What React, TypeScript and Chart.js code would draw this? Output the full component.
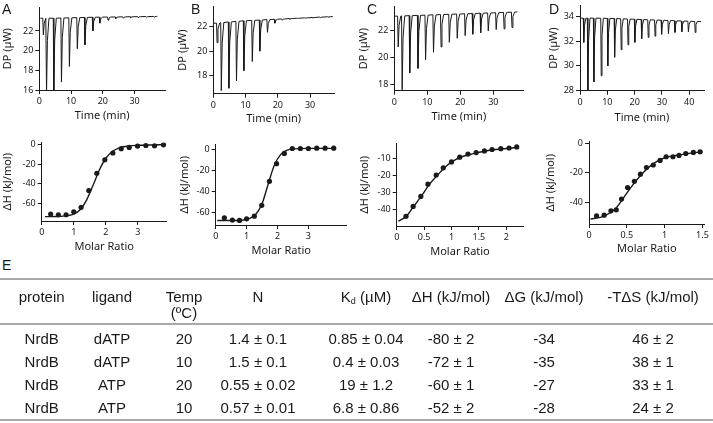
import React, { useEffect, useRef } from "react";
import { Chart, registerables } from "chart.js";

Chart.register(...registerables);

// ---------- Panel A (top): raw thermogram ----------
const aTraceStart = [0.3, 23.3];
const aTraceEnd = [37.2, 23.5];
const aInjTimes = [1.1, 2.1, 4.4, 6.8, 9.3, 11.8, 14.2, 16.7, 18.9, 21.5, 23.9, 26.3, 28.6, 31.0, 33.6, 36.0];
const aInjPeaks = [21.6, 15.8, 15.9, 16.8, 18.4, 20.2, 20.6, 22.0, 22.8, 23.1, 23.25, 23.3, 23.35, 23.35, 23.4, 23.4];
const aInjBase = [23.3, 23.3, 23.3, 23.32, 23.34, 23.36, 23.38, 23.4, 23.41, 23.42, 23.43, 23.44, 23.45, 23.46, 23.47, 23.48];

// ---------- Panel B (top) ----------
const bTraceStart = [0.2, 22.3];
const bTraceEnd = [37.0, 22.85];
const bInjTimes = [1.0, 2.3, 4.65, 7.0, 9.3, 11.9, 14.25, 16.6, 18.9, 21.2, 23.5, 25.9, 28.3, 30.6, 33.0, 35.4];
const bInjPeaks = [20.7, 16.75, 16.95, 17.55, 18.4, 19.15, 20.0, 21.55, 22.3, 22.55, 22.62, 22.68, 22.7, 22.73, 22.76, 22.8];
const bInjBase = [22.3, 22.35, 22.4, 22.45, 22.5, 22.53, 22.56, 22.6, 22.62, 22.65, 22.68, 22.71, 22.74, 22.77, 22.8, 22.83];

// ---------- Panel C (top) ----------
const cTraceStart = [0.2, 23.1];
const cTraceEnd = [37.3, 23.42];
const cInjTimes = [1.0, 2.2, 4.5, 7.0, 9.3, 11.7, 14.0, 16.5, 18.9, 21.3, 23.6, 26.0, 28.3, 30.7, 33.1, 35.5];
const cInjPeaks = [20.8, 17.6, 18.85, 19.2, 19.85, 20.4, 20.8, 21.15, 21.45, 21.65, 21.75, 21.85, 22.0, 22.1, 22.15, 22.25];
const cInjBase = [23.1, 23.12, 23.14, 23.16, 23.18, 23.2, 23.22, 23.24, 23.26, 23.28, 23.3, 23.32, 23.34, 23.36, 23.38, 23.4];

// ---------- Panel D (top) ----------
const dTraceStart = [0.2, 33.85];
const dTraceEnd = [44.3, 33.58];
const dInjTimes = [1.2, 2.7, 4.9, 7.6, 10.0, 12.5, 14.9, 17.4, 19.9, 22.4, 24.8, 27.3, 29.7, 32.2, 34.6, 37.1, 39.5, 42.0];
const dInjPeaks = [31.9, 27.9, 28.7, 29.2, 30.0, 30.7, 31.3, 31.7, 31.9, 32.2, 32.3, 32.4, 32.55, 32.6, 32.7, 32.75, 32.75, 32.7];
const dInjBase = [33.85, 33.85, 33.85, 33.84, 33.83, 33.82, 33.8, 33.78, 33.76, 33.74, 33.72, 33.7, 33.68, 33.66, 33.64, 33.62, 33.6, 33.58];

// ---------- Bottom row: integrated heats & fits ----------
const aRatio = [0.28, 0.52, 0.76, 1.0, 1.23, 1.47, 1.72, 1.97, 2.22, 2.48, 2.73, 2.99, 3.25, 3.52, 3.8];
const aHeat = [-71.4, -72.1, -72.1, -69.1, -64.4, -47.2, -29.4, -15.6, -8.6, -4.2, -2.9, -1.5, -0.9, -1.2, -0.2];
const aFitX = [0.1, 0.5, 0.8, 1.0, 1.2, 1.4, 1.6, 1.8, 2.0, 2.2, 2.4, 2.7, 3.0, 3.4, 3.8];
const aFitY = [-74, -73.8, -73, -71.5, -67, -57, -42, -26, -14, -7, -3.5, -1.5, -0.7, -0.3, 0];

const bRatio = [0.28, 0.54, 0.77, 1.0, 1.25, 1.49, 1.74, 1.97, 2.22, 2.48, 2.74, 3.0, 3.27, 3.54, 3.82];
const bHeat = [-65.4, -67.6, -67.9, -66.4, -63.9, -53.5, -30.5, -13.6, -3.8, 0.9, 0.9, 0.9, 1.2, 1.2, 1.2];
const bFitX = [0.05, 0.5, 0.9, 1.1, 1.3, 1.5, 1.7, 1.9, 2.1, 2.3, 2.5, 3.0, 3.85];
const bFitY = [-68, -68, -67.5, -66, -62, -52, -33, -15, -5, -1, 0.5, 1, 1];

const cRatio = [0.17, 0.3, 0.44, 0.57, 0.72, 0.85, 1.0, 1.15, 1.3, 1.45, 1.6, 1.74, 1.9, 2.05, 2.19];
const cHeat = [-43.9, -38.1, -32.2, -25.0, -19.6, -15.4, -11.9, -9.1, -7.3, -6.4, -5.4, -4.6, -4.1, -3.7, -3.1];
const cFitX = [0.03, 0.17, 0.3, 0.45, 0.6, 0.75, 0.9, 1.05, 1.2, 1.4, 1.6, 1.8, 2.0, 2.2];
const cFitY = [-46.8, -44, -38.5, -32, -25, -19.5, -14.5, -11, -8.7, -7, -5.6, -4.6, -4, -3.4];

const dRatio = [0.1, 0.2, 0.29, 0.36, 0.43, 0.51, 0.6, 0.68, 0.76, 0.85, 0.94, 1.02, 1.11, 1.19, 1.28, 1.38, 1.47];
const dHeat = [-49.3, -48.9, -46.0, -45.3, -38.0, -30.2, -26.0, -21.1, -16.6, -14.9, -11.8, -9.3, -9.3, -8.4, -7.1, -6.4, -6.0];
const dFitX = [0.02, 0.2, 0.35, 0.5, 0.6, 0.7, 0.8, 0.9, 1.0, 1.2, 1.4, 1.5];
const dFitY = [-51.5, -49.5, -44.5, -34, -27, -21, -16, -12.5, -10, -8, -6.5, -6];

// ---------- Tick labels ----------
const timeTicks40 = [0, 10, 20, 30];
const timeLabels40 = ["0", "10", "20", "30"];
const timeTicksD = [0, 10, 20, 30, 40];
const timeLabelsD = ["0", "10", "20", "30", "40"];
const dpTicksA = [16, 18, 20, 22];
const dpLabelsA = ["16", "18", "20", "22"];
const dpTicksB = [18, 20, 22];
const dpLabelsB = ["18", "20", "22"];
const dpTicksC = [18, 20, 22];
const dpLabelsC = ["18", "20", "22"];
const dpTicksD = [28, 30, 32, 34];
const dpLabelsD = ["28", "30", "32", "34"];
const ratioTicks3 = [0, 1, 2, 3];
const ratioLabels3 = ["0", "1", "2", "3"];
const ratioTicksC = [0, 0.5, 1, 1.5, 2];
const ratioLabelsC = ["0", "0.5", "1", "1.5", "2"];
const ratioTicksD = [0, 0.5, 1, 1.5];
const ratioLabelsD = ["0", "0.5", "1", "1.5"];
const heatTicksAB = [0, -20, -40, -60];
const heatLabelsAB = ["0", "-20", "-40", "-60"];
const heatTicksC = [-10, -20, -30, -40];
const heatLabelsC = ["-10", "-20", "-30", "-40"];
const heatTicksD = [0, -20, -40];
const heatLabelsD = ["0", "-20", "-40"];

// ---------- Table ----------
const tableHeaders = ["protein", "ligand", "Temp", "N", "Kd", "\u0394H (kJ/mol)", "\u0394G (kJ/mol)", "-T\u0394S (kJ/mol)"];
const tableProtein = ["NrdB", "NrdB", "NrdB", "NrdB"];
const tableLigand = ["dATP", "dATP", "ATP", "ATP"];
const tableTemp = ["20", "10", "20", "10"];
const tableN = ["1.4 \u00b1 0.1", "1.5 \u00b1 0.1", "0.55 \u00b1 0.02", "0.57 \u00b1 0.01"];
const tableKd = ["0.85 \u00b1 0.04", "0.4 \u00b1 0.03", "19 \u00b1 1.2", "6.8 \u00b1 0.86"];
const tableDH = ["-80 \u00b1 2", "-72 \u00b1 1", "-60 \u00b1 1", "-52 \u00b1 2"];
const tableDG = ["-34", "-35", "-27", "-28"];
const tableTDS = ["46 \u00b1 2", "38 \u00b1 1", "33 \u00b1 1", "24 \u00b1 2"];

const FONT = "'Noto Sans', 'Open Sans', sans-serif";
const TABLE_FONT = "'Liberation Sans', Arial, sans-serif";
const INK = "#1a1a1a";

function buildTrace(start: number[], end: number[], times: number[], peaks: number[], bases: number[]) {
  const pts: { x: number; y: number }[] = [{ x: start[0], y: start[1] }];
  times.forEach((t, i) => {
    const base = bases[i];
    const depth = base - peaks[i];
    pts.push({ x: t, y: base });
    pts.push({ x: t + 0.18, y: peaks[i] });
    pts.push({ x: t + 0.45, y: base - depth * 0.3 });
    pts.push({ x: t + 0.95, y: base });
  });
  pts.push({ x: end[0], y: end[1] });
  return pts;
}

function zip(xs: number[], ys: number[]) {
  return xs.map((x, i) => ({ x, y: ys[i] }));
}

type PanelDef = {
  l: number; t: number; r: number; b: number;
  yTitleX: number; xTitleY: number;
  xMin: number; xMax: number; yMin: number; yMax: number;
  xTicks: number[]; xLabels: string[]; yTicks: number[]; yLabels: string[];
  xTitle: string; yTitle: string; datasets: any[];
};

const TITLE_SIZE = 11;
const TITLE_LH = TITLE_SIZE * 1.2;

function PanelChart({ def }: { def: PanelDef }) {
  const ref = useRef<HTMLCanvasElement | null>(null);
  const left = Math.round(def.yTitleX - TITLE_LH / 2);
  const top = Math.round(def.t - 6);
  const width = Math.round(def.r + 10 - left);
  const height = Math.round(def.xTitleY + TITLE_LH / 2 - top);
  const padTop = def.t - top;
  const padRight = left + width - def.r;
  const yAxisW = def.l - left;
  const xAxisH = top + height - def.b;

  useEffect(() => {
    if (!ref.current) return;
    const axisCommon = {
      type: "linear" as const,
      grid: { display: true, drawOnChartArea: false, drawTicks: true, tickLength: 4, color: INK, lineWidth: 1 },
      border: { display: true, color: INK, width: 1 },
    };
    const chart = new Chart(ref.current, {
      type: "scatter",
      data: { datasets: def.datasets },
      options: {
        animation: false,
        responsive: false,
        maintainAspectRatio: false,
        devicePixelRatio: 1,
        layout: { padding: { top: padTop, right: padRight, left: 0, bottom: 0 } },
        plugins: { legend: { display: false }, tooltip: { enabled: false } },
        events: [],
        scales: {
          x: {
            ...axisCommon,
            min: def.xMin,
            max: def.xMax,
            afterFit: (s: any) => { s.height = xAxisH; },
            afterBuildTicks: (s: any) => { s.ticks = def.xTicks.map((v) => ({ value: v })); },
            ticks: {
              color: INK, font: { size: 9, family: FONT }, padding: 2, maxRotation: 0, autoSkip: false,
              callback: (_v: any, i: number) => def.xLabels[i],
            },
            title: { display: true, text: def.xTitle, color: INK, font: { size: TITLE_SIZE, family: FONT }, padding: 0 },
          },
          y: {
            ...axisCommon,
            min: def.yMin,
            max: def.yMax,
            afterFit: (s: any) => { s.width = yAxisW; },
            afterBuildTicks: (s: any) => { s.ticks = def.yTicks.map((v) => ({ value: v })); },
            ticks: {
              color: INK, font: { size: 9, family: FONT }, padding: 2, autoSkip: false,
              callback: (_v: any, i: number) => def.yLabels[i],
            },
            title: { display: true, text: def.yTitle, color: INK, font: { size: TITLE_SIZE, family: FONT }, padding: 0 },
          },
        },
      } as any,
    });
    return () => chart.destroy();
  }, []);

  return (
    <canvas
      ref={ref}
      width={width}
      height={height}
      style={{ position: "absolute", left, top, width, height }}
    />
  );
}

const traceDs = (pts: any[]) => ({
  data: pts, showLine: true, borderColor: INK, borderWidth: 1, pointRadius: 0, tension: 0,
});
const pointDs = (pts: any[]) => ({
  data: pts, showLine: false, pointRadius: 2.6, pointBackgroundColor: INK, pointBorderWidth: 0, borderColor: INK,
});
const fitDs = (pts: any[]) => ({
  data: pts, showLine: true, borderColor: INK, borderWidth: 1.4, pointRadius: 0, tension: 0.4, cubicInterpolationMode: "monotone",
});

const DP = "DP (\u00b5W)";
const DH = "\u0394H (kJ/mol)";

const panels: PanelDef[] = [
  {
    l: 39.3, t: 6, r: 165, b: 90, yTitleX: 7.5, xTitleY: 115,
    xMin: 0, xMax: 39.6, yMin: 16, yMax: 24.4,
    xTicks: timeTicks40, xLabels: timeLabels40, yTicks: dpTicksA, yLabels: dpLabelsA,
    xTitle: "Time (min)", yTitle: DP,
    datasets: [traceDs(buildTrace(aTraceStart, aTraceEnd, aInjTimes, aInjPeaks, aInjBase))],
  },
  {
    l: 213.3, t: 5, r: 334, b: 93.7, yTitleX: 182.3, xTitleY: 118.3,
    xMin: 0, xMax: 37.4, yMin: 16.5, yMax: 23.68,
    xTicks: timeTicks40, xLabels: timeLabels40, yTicks: dpTicksB, yLabels: dpLabelsB,
    xTitle: "Time (min)", yTitle: DP,
    datasets: [traceDs(buildTrace(bTraceStart, bTraceEnd, bInjTimes, bInjPeaks, bInjBase))],
  },
  {
    l: 394.3, t: 5, r: 523.3, b: 90.7, yTitleX: 363.3, xTitleY: 116.7,
    xMin: 0, xMax: 39.1, yMin: 17.53, yMax: 23.83,
    xTicks: timeTicks40, xLabels: timeLabels40, yTicks: dpTicksC, yLabels: dpLabelsC,
    xTitle: "Time (min)", yTitle: DP,
    datasets: [traceDs(buildTrace(cTraceStart, cTraceEnd, cInjTimes, cInjPeaks, cInjBase))],
  },
  {
    l: 580, t: 4, r: 704, b: 90.7, yTitleX: 553.3, xTitleY: 117.7,
    xMin: 0, xMax: 45.4, yMin: 28, yMax: 34.88,
    xTicks: timeTicksD, xLabels: timeLabelsD, yTicks: dpTicksD, yLabels: dpLabelsD,
    xTitle: "Time (min)", yTitle: DP,
    datasets: [traceDs(buildTrace(dTraceStart, dTraceEnd, dInjTimes, dInjPeaks, dInjBase))],
  },
  {
    l: 41.7, t: 141, r: 166.7, b: 221, yTitleX: 7.3, xTitleY: 246.7,
    xMin: 0, xMax: 3.9, yMin: -78.5, yMax: 2.3,
    xTicks: ratioTicks3, xLabels: ratioLabels3, yTicks: heatTicksAB, yLabels: heatLabelsAB,
    xTitle: "Molar Ratio", yTitle: DH,
    datasets: [pointDs(zip(aRatio, aHeat)), fitDs(zip(aFitX, aFitY))],
  },
  {
    l: 215.7, t: 143.3, r: 346.7, b: 225, yTitleX: 185, xTitleY: 250,
    xMin: 0, xMax: 4.24, yMin: -72.3, yMax: 4.8,
    xTicks: ratioTicks3, xLabels: ratioLabels3, yTicks: heatTicksAB, yLabels: heatLabelsAB,
    xTitle: "Molar Ratio", yTitle: DH,
    datasets: [pointDs(zip(bRatio, bHeat)), fitDs(zip(bFitX, bFitY))],
  },
  {
    l: 396.7, t: 141.7, r: 523.3, b: 226, yTitleX: 365, xTitleY: 251.7,
    xMin: 0, xMax: 2.31, yMin: -49.6, yMax: -1,
    xTicks: ratioTicksC, xLabels: ratioLabelsC, yTicks: heatTicksC, yLabels: heatLabelsC,
    xTitle: "Molar Ratio", yTitle: DH,
    datasets: [pointDs(zip(cRatio, cHeat)), fitDs(zip(cFitX, cFitY))],
  },
  {
    l: 589, t: 140, r: 704.7, b: 224, yTitleX: 551, xTitleY: 248.3,
    xMin: 0, xMax: 1.53, yMin: -54.9, yMax: 1.1,
    xTicks: ratioTicksD, xLabels: ratioLabelsD, yTicks: heatTicksD, yLabels: heatLabelsD,
    xTitle: "Molar Ratio", yTitle: DH,
    datasets: [pointDs(zip(dRatio, dHeat)), fitDs(zip(dFitX, dFitY))],
  },
];

const panelLetters = [
  { t: "A", x: 2, y: 1 },
  { t: "B", x: 191, y: 1 },
  { t: "C", x: 367, y: 1 },
  { t: "D", x: 549, y: 1 },
  { t: "E", x: 2, y: 257 },
];

const colCenters = [41.7, 112, 184, 258, 366, 451, 544, 653];
const colWidth = 110;
const rowCenters = [339.3, 362.3, 385, 407.7];
const headerLine1 = 296.7;
const headerLine2 = 313;
const lineYs = [279, 324, 420];

function Cell({ cx, cy, children }: { cx: number; cy: number; children: any }) {
  return (
    <div
      style={{
        position: "absolute",
        left: cx - colWidth / 2,
        top: cy - 9,
        width: colWidth,
        height: 18,
        lineHeight: "18px",
        textAlign: "center",
        whiteSpace: "nowrap",
      }}
    >
      {children}
    </div>
  );
}

export default function App() {
  const columns = [tableProtein, tableLigand, tableTemp, tableN, tableKd, tableDH, tableDG, tableTDS];
  return (
    <div
      style={{
        position: "fixed", left: 0, top: 0, width: 713, height: 423, background: "#fff", overflow: "hidden",
      }}
    >
      {panels.map((p, i) => (
        <PanelChart key={i} def={p} />
      ))}
      {panelLetters.map((l) => (
        <div
          key={l.t}
          style={{
            position: "absolute", left: l.x, top: l.y, fontFamily: TABLE_FONT, fontSize: 14, lineHeight: "16px", color: INK,
          }}
        >
          {l.t}
        </div>
      ))}
      <div style={{ position: "absolute", left: 0, top: 0, width: 713, height: 423, fontFamily: TABLE_FONT, fontSize: 15, color: INK }}>
        {lineYs.map((y, i) => (
          <div key={i} style={{ position: "absolute", left: 0, top: y - 0.75, width: 713, height: 1.5, background: "#a9a9a9" }} />
        ))}
        {tableHeaders.map((h, i) => (
          <Cell key={i} cx={colCenters[i]} cy={headerLine1}>
            {h === "Kd" ? (
              <span>
                K<sub style={{ fontSize: 9, verticalAlign: "-2px", lineHeight: 0 }}>d</sub> ({"\u00b5"}M)
              </span>
            ) : (
              h
            )}
          </Cell>
        ))}
        <Cell cx={colCenters[2]} cy={headerLine2}>({"\u00ba"}C)</Cell>
        {rowCenters.map((cy, r) =>
          columns.map((col, c) => (
            <Cell key={`${r}-${c}`} cx={colCenters[c]} cy={cy}>
              {col[r]}
            </Cell>
          ))
        )}
      </div>
    </div>
  );
}
